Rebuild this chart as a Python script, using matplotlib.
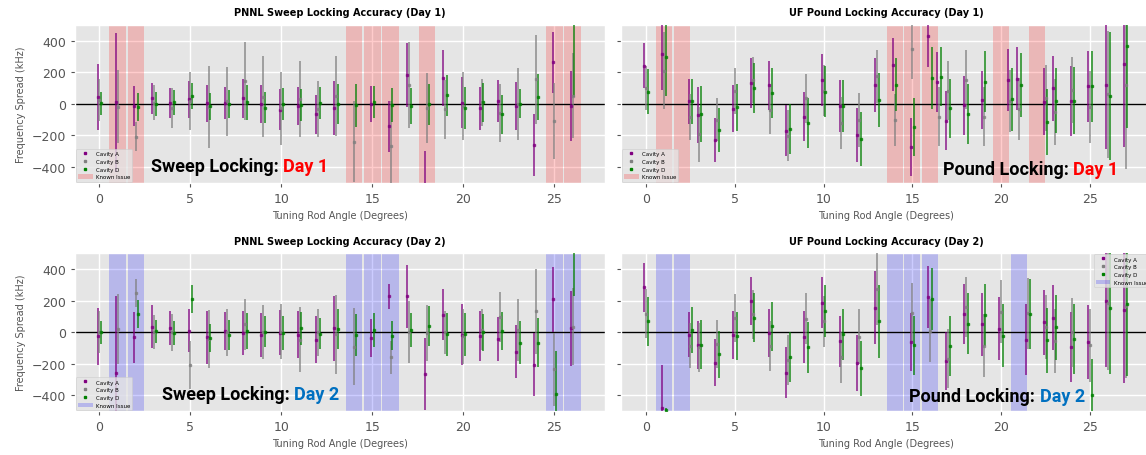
import numpy as np
import matplotlib
matplotlib.use("Agg")
import matplotlib.pyplot as plt
from matplotlib.lines import Line2D
from matplotlib.patches import Patch

nan = np.nan

# ---------------- PNNL sweep locking, day 1 ----------------
pnnl_d1_angles = list(range(27))
pnnl_d1_a = [44, 8, -15, 34, 2, 27, 2, 4, 34, 0, -37, -15, -68, -27, nan, -4, -143, 183, -520, 164, 6, -29, 17, -15, -261, 263, -15]
pnnl_d1_a_err = [208, 440, 126, 100, 95, 115, 118, 103, 122, 120, 128, 119, 124, 170, nan, 115, 161, 202, 220, 179, 162, 138, 132, 154, 195, 192, 221]
pnnl_d1_b = [23, -19, -208, 6, -25, 20, -20, 15, 145, 46, -28, 31, -36, 48, -240, nan, -268, 118, -27, -34, -15, 8, -59, 0, 154, -110, 52]
pnnl_d1_b_err = [135, 232, 93, 110, 126, 184, 259, 217, 245, 256, 232, 239, 178, 253, 258, nan, 285, 275, 223, 187, 215, 150, 182, 228, 284, 243, 268]
pnnl_d1_d = [2, nan, -23, -4, 8, 50, -15, -2, 8, -25, 0, -10, 4, -2, -10, 10, -6, -15, -2, 53, -25, 10, -67, 0, 42, nan, 520]
pnnl_d1_d_err = [75, nan, 89, 76, 77, 84, 86, 87, 109, 99, 100, 102, 101, 127, 138, 101, 108, 112, 130, 131, 134, 123, 124, 92, 147, nan, 475]
pnnl_d1_issues = [1, 2, 14, 15, 16, 18, 25, 26]

# ---------------- UF pound locking, day 1 ----------------
uf_d1_angles = [0, 1, 2.5, 3, 4, 5, 6, 7, 8, 9, 10, 11, 12, 13, 14, 15, 16, 16.5, 17, 18, 19, 20.5, 21, 22.5, 23, 24, 25, 26, 27]
uf_d1_a = [242, 316, 15, -70, -230, -31, 134, 117, -172, -82, 150, -13, -200, 120, 248, -274, 432, 137, -107, -11, 23, 152, 160, 13, 97, 19, 111, 120, 255]
uf_d1_a_err = [142, 230, 145, 177, 142, 147, 158, 157, 162, 156, 163, 166, 171, 171, 168, 186, 198, 190, 185, 185, 184, 197, 199, 212, 207, 221, 225, 405, 531]
uf_d1_b = [100, 211, -84, -194, -100, 80, 150, -40, -202, 36, 84, -122, -103, 175, -101, 348, nan, -83, 84, 153, -82, 17, -32, 36, -51, 86, -23, 60, 116]
uf_d1_b_err = [139, 247, 144, 175, 137, 147, 147, 152, 163, 156, 163, 167, 169, 168, 166, 194, nan, 188, 185, 187, 189, 196, 197, 211, 210, 210, 228, 405, 532]
uf_d1_d = [76, 295, 17, -65, -167, -22, 98, 66, -162, -122, 77, -13, -223, 23, 122, -145, 164, 171, -30, -65, 141, 27, 118, -116, 19, 19, 111, 48, 369]
uf_d1_d_err = [142, 247, 143, 177, 142, 150, 158, 158, 160, 157, 161, 166, 171, 171, 168, 184, 196, 188, 186, 189, 195, 200, 205, 211, 206, 213, 225, 405, 526]
uf_d1_issues = [1, 2, 14, 15, 16, 20, 22]

# ---------------- PNNL sweep locking, day 2 ----------------
pnnl_d2_angles = list(range(27))
pnnl_d2_a = [-27, -260, -34, 34, 27, 8, -34, 8, -4, -21, -4, -17, -48, 23, nan, -38, 226, 226, -266, 111, -17, -27, -42, -126, -207, 207, 23]
pnnl_d2_a_err = [182, 488, 164, 136, 107, 136, 170, 119, 139, 140, 143, 149, 148, 205, nan, 120, 77, 202, 228, 162, 192, 159, 140, 168, 201, 209, 236]
pnnl_d2_b = [0, 19, 245, 0, -2, -207, -44, -2, 48, 2, 2, -48, -2, -15, -92, nan, -161, 0, -6, -2, -27, 15, 94, 13, 132, -235, 34]
pnnl_d2_b_err = [136, 220, 89, 110, 116, 152, 185, 149, 159, 171, 174, 204, 149, 253, 243, nan, 105, 196, 178, 136, 173, 131, 159, 195, 269, 232, 243]
pnnl_d2_d = [-2, nan, 115, 4, -8, 211, -40, -17, 8, 2, -6, 23, -10, 21, -19, 13, -23, 15, 40, -15, -15, -2, 6, -67, -67, -394, 560]
pnnl_d2_d_err = [71, nan, 90, 71, 76, 88, 88, 94, 113, 99, 108, 103, 99, 126, 134, 105, 93, 109, 126, 134, 136, 116, 122, 135, 156, 273, 334]
pnnl_d2_issues = [1, 2, 14, 15, 16, 25, 26]

# ---------------- UF pound locking, day 2 ----------------
uf_d2_angles = [0, 1, 2.5, 3, 4, 5, 6, 7, 8, 9, 10, 11, 12, 13, 15, 16, 17, 18, 19, 20, 21.5, 22.5, 23, 24, 25, 26, 27]
uf_d2_a = [283, -480, -17, -82, -195, -21, 197, -6, -258, -31, 186, -57, -197, 155, -61, 223, -184, 117, 50, 21, -50, 61, 92, -96, -63, 197, 138]
uf_d2_a_err = [157, 268, 143, 150, 150, 152, 155, 155, 162, 163, 163, 162, 177, 230, 185, 199, 187, 191, 199, 199, 225, 205, 208, 222, 235, 418, 459]
uf_d2_b = [117, nan, -86, -96, -75, 88, 113, -88, -176, 86, 67, -161, -29, 274, 124, 8, -170, 159, -86, 130, 119, 34, -59, -2, -84, 182, 165]
uf_d2_b_err = [157, nan, 145, 155, 154, 152, 157, 158, 160, 162, 164, 164, 175, 230, 190, 199, 188, 192, 201, 198, 225, 204, 204, 218, 232, 420, 455]
uf_d2_d = [67, -492, 13, -80, -142, -23, 90, 36, -159, -98, 132, -15, -230, 69, -84, 207, -90, 52, 107, -23, 115, -52, 29, -42, -400, 151, 176]
uf_d2_d_err = [157, 8, 144, 154, 151, 153, 155, 157, 160, 163, 164, 164, 175, 232, 188, 197, 190, 193, 198, 199, 225, 205, 205, 222, 230, 420, 455]
uf_d2_issues = [1, 2, 14, 15, 16, 21]

cavity_names = ["Cavity A", "Cavity B", "Cavity D"]
cavity_colors = ["purple", "gray", "green"]
cavity_offsets = [-0.1, 0.0, 0.1]

plt.style.use("ggplot")
plt.rcParams["font.family"] = ["DejaVu Sans"]

W, H = 1146, 456
fig = plt.figure(figsize=(W / 100, H / 100), dpi=100)


def fig_rect(left, top, width, height):
    return [left / W, 1 - (top + height) / H, width / W, height / H]


panels = [
    dict(rect=fig_rect(75, 26, 530, 157.5), xlim=(-1.34, 27.78),
         title="PNNL Sweep Locking Accuracy (Day 1)", angles=pnnl_d1_angles,
         series=[(pnnl_d1_a, pnnl_d1_a_err), (pnnl_d1_b, pnnl_d1_b_err), (pnnl_d1_d, pnnl_d1_d_err)],
         issues=pnnl_d1_issues, issue_color="red", left=True, legend_loc="lower left"),
    dict(rect=fig_rect(621, 26, 530, 157.5), xlim=(-1.41, 28.43),
         title="UF Pound Locking Accuracy (Day 1)", angles=uf_d1_angles,
         series=[(uf_d1_a, uf_d1_a_err), (uf_d1_b, uf_d1_b_err), (uf_d1_d, uf_d1_d_err)],
         issues=uf_d1_issues, issue_color="red", left=False, legend_loc="lower left"),
    dict(rect=fig_rect(75, 254.3, 530, 157.5), xlim=(-1.34, 27.78),
         title="PNNL Sweep Locking Accuracy (Day 2)", angles=pnnl_d2_angles,
         series=[(pnnl_d2_a, pnnl_d2_a_err), (pnnl_d2_b, pnnl_d2_b_err), (pnnl_d2_d, pnnl_d2_d_err)],
         issues=pnnl_d2_issues, issue_color="blue", left=True, legend_loc="lower left"),
    dict(rect=fig_rect(621, 254.3, 530, 157.5), xlim=(-1.41, 28.43),
         title="UF Pound Locking Accuracy (Day 2)", angles=uf_d2_angles,
         series=[(uf_d2_a, uf_d2_a_err), (uf_d2_b, uf_d2_b_err), (uf_d2_d, uf_d2_d_err)],
         issues=uf_d2_issues, issue_color="blue", left=False, legend_loc="upper right"),
]

for p in panels:
    ax = fig.add_axes(p["rect"])
    ang = np.asarray(p["angles"], dtype=float)
    for a in p["issues"]:
        ax.axvspan(a - 0.45, a + 0.45, color=p["issue_color"], alpha=0.2, lw=0, zorder=1)
    ax.axhline(0, color="black", lw=1.0, zorder=2)
    for (vals, errs), color, off in zip(p["series"], cavity_colors, cavity_offsets):
        ax.errorbar(ang + off, np.asarray(vals, float), yerr=np.asarray(errs, float),
                    fmt="s", ms=1.6, color=color, ecolor=color, elinewidth=1.3,
                    alpha=0.75, capsize=0, zorder=3)
    ax.set_xlim(*p["xlim"])
    ax.set_ylim(-500, 500)
    ax.set_xticks([0, 5, 10, 15, 20, 25])
    ax.set_yticks([-400, -200, 0, 200, 400])
    ax.grid(True, color="white", lw=1.0)
    ax.tick_params(labelsize=9, colors="#555555", length=3, width=0.8)
    if not p["left"]:
        ax.tick_params(labelleft=False)
    else:
        ax.set_ylabel("Frequency Spread (kHz)", fontsize=7, color="#555555", labelpad=4)
    ax.set_xlabel("Tuning Rod Angle (Degrees)", fontsize=7, color="#555555", labelpad=4)
    ax.set_title(p["title"], fontsize=7, fontweight="bold", color="black", pad=7)

    handles = [Line2D([], [], ls="none", marker="s", ms=1.6, color=c, label=n)
               for n, c in zip(cavity_names, cavity_colors)]
    handles.append(Patch(facecolor=p["issue_color"], alpha=0.2, label="Known Issue"))
    leg = ax.legend(handles=handles, loc=p["legend_loc"], fontsize=4, borderaxespad=0.15,
                    handlelength=2.6, handleheight=0.9, labelspacing=0.45, borderpad=0.4,
                    handletextpad=0.6, framealpha=0.8)
    leg.get_frame().set_linewidth(0.5)

# panel captions
captions = [
    (150.7, 172.5, "Sweep Locking:", "Day 1", "#FF0000"),
    (942.7, 175.0, "Pound Locking:", "Day 1", "#FF0000"),
    (161.7, 400.0, "Sweep Locking:", "Day 2", "#0070C0"),
    (909.0, 402.0, "Pound Locking:", "Day 2", "#0070C0"),
]
cap_font = dict(fontsize=13, fontweight="bold", family=["Roboto", "DejaVu Sans"])
for x, y, head, day, col in captions:
    t1 = fig.text(x / W, 1 - y / H, head, color="black", va="baseline", ha="left", **cap_font)
    plt.annotate(day, xy=(1, 0), xycoords=t1, xytext=(3.5, 0), textcoords="offset points",
                 color=col, va="bottom", ha="left", annotation_clip=False, **cap_font)

fig.savefig("out.png", dpi=100)
